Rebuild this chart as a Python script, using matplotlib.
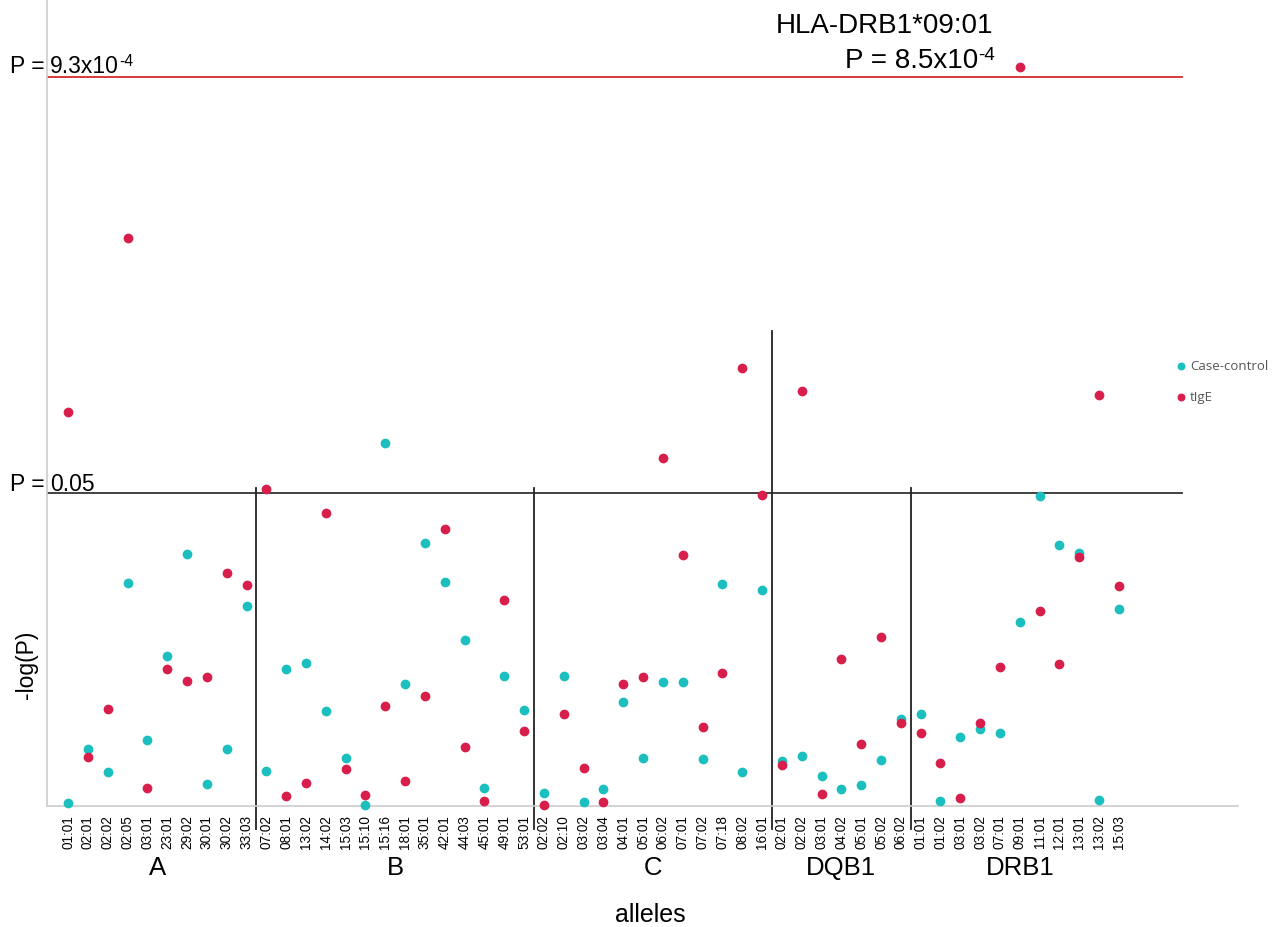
import matplotlib.pyplot as plt
import numpy as np

genes = ["A", "B", "C", "DQB1", "DRB1"]
alleles = {
    "A": ["01:01", "02:01", "02:02", "02:05", "03:01", "23:01", "29:02", "30:01", "30:02", "33:03"],
    "B": ["07:02", "08:01", "13:02", "14:02", "15:03", "15:10", "15:16", "18:01", "35:01", "42:01",
          "44:03", "45:01", "49:01", "53:01"],
    "C": ["02:02", "02:10", "03:02", "03:04", "04:01", "05:01", "06:02", "07:01", "07:02", "07:18",
          "08:02", "16:01"],
    "DQB1": ["02:01", "02:02", "03:01", "04:02", "05:01", "05:02", "06:02"],
    "DRB1": ["01:01", "01:02", "03:01", "03:02", "07:01", "09:01", "11:01", "12:01", "13:01", "13:02",
             "15:03"],
}

# -log10(P)
case_control = [
    0.012, 0.237, 0.141, 0.927, 0.274, 0.624, 1.048, 0.091, 0.237, 0.832,
    0.146, 0.570, 0.595, 0.395, 0.200, 0.004, 1.509, 0.507, 1.094, 0.931, 0.690, 0.075, 0.541, 0.399,
    0.054, 0.541, 0.017, 0.071, 0.432, 0.200, 0.516, 0.516, 0.195, 0.923, 0.141, 0.898,
    0.187, 0.208, 0.125, 0.071, 0.087, 0.191, 0.362,
    0.383, 0.021, 0.287, 0.320, 0.304, 0.765, 1.289, 1.085, 1.052, 0.025, 0.819,
]
tige = [
    1.638, 0.204, 0.403, 2.362, 0.075, 0.570, 0.520, 0.536, 0.969, 0.919,
    1.318, 0.042, 0.096, 1.218, 0.154, 0.046, 0.416, 0.104, 0.457, 1.152, 0.245, 0.021, 0.857, 0.312,
    0.004, 0.383, 0.158, 0.017, 0.507, 0.536, 1.447, 1.044, 0.328, 0.553, 1.821, 1.293,
    0.170, 1.726, 0.050, 0.611, 0.258, 0.703, 0.345,
    0.304, 0.179, 0.033, 0.345, 0.578, 3.071, 0.811, 0.590, 1.035, 1.709, 0.915,
]

p_nominal = 0.05
p_threshold = 9.3e-4

teal = "#1cbfbf"
red = "#d81e4b"
FONT = "Liberation Sans"

labels = [a for g in genes for a in alleles[g]]
x = np.arange(len(labels))

fig = plt.figure(figsize=(12.82, 9.28), dpi=100)
ax = fig.add_axes([0.0367, 0.1304, 0.9289, 0.8696])

ax.scatter(x, case_control, s=36, color=teal, zorder=3, clip_on=False)
ax.scatter(x, tige, s=36, color=red, zorder=3, clip_on=False)

ax.set_xlim(-1.06, 59.0)
ax.set_ylim(0, 3.355)

y05 = -np.log10(p_nominal)
ythr = -np.log10(p_threshold)
ax.plot([-1.06, 56.2], [y05, y05], color="#333333", lw=1.3, zorder=2)
ax.plot([-1.06, 56.2], [ythr, ythr], color="#d42a2a", lw=1.3, zorder=2)

# separators between genes
bounds = np.cumsum([len(alleles[g]) for g in genes])[:-1] - 0.5
for i, b in enumerate(bounds):
    top = 1.975 if genes[i + 1] == "DQB1" else 1.322
    ax.plot([b, b], [-0.096, top], color="#222222", lw=1.3, clip_on=False, zorder=2)

# gene names under the ticks
starts = np.concatenate([[0], bounds + 0.5])
for g, s in zip(genes, starts):
    mid = s + (len(alleles[g]) - 1) / 2
    ax.text(mid, -0.254, g, ha="center", va="center", fontsize=18.5,
            family=FONT, clip_on=False)

ax.set_xticks(x)
ax.set_xticklabels(labels, rotation=90, fontsize=9.8, family=FONT)
ax.tick_params(axis="x", length=0, pad=6)
ax.set_yticks([])

for side in ["top", "right"]:
    ax.spines[side].set_visible(False)
for side in ["left", "bottom"]:
    ax.spines[side].set_color("#cccccc")
    ax.spines[side].set_linewidth(1.2)

ax.text(29.35, -0.449, "alleles", ha="center", va="center", fontsize=18,
        family=FONT, clip_on=False)
ax.set_ylabel("-log(P)", fontsize=16.5, family=FONT)
ax.yaxis.set_label_coords(-0.008, 0.176)


def p_label(xv, yv, base, sup, size, ha="left"):
    t = ax.text(xv, yv, base, ha=ha, va="baseline", fontsize=size, family=FONT,
                clip_on=False)
    if sup:
        ax.annotate(sup, xy=(1.0, 1.02), xycoords=t, ha="left", va="top",
                    fontsize=size * 0.68, family=FONT)
    return t


p_label(-1.16, y05 + 0.013, "P =", None, 16.5, ha="right")
p_label(-0.91, y05 + 0.013, "0.05", None, 16.5)
p_label(-1.16, 3.052, "P =", None, 16.5, ha="right")
p_label(-0.91, 3.052, "9.3x10", "-4", 16.5)

ax.text(46.65, 3.218, "HLA-DRB1*09:01", ha="right", va="baseline", fontsize=20,
        family=FONT)
p_label(45.89, 3.073, "P = 8.5x10", "-4", 20, ha="right")

# legend
ax.scatter([56.13], [1.830], s=22, color=teal, clip_on=False)
ax.scatter([56.13], [1.701], s=22, color=red, clip_on=False)
ax.text(56.58, 1.830, "Case-control", ha="left", va="center", fontsize=9.5,
        color="#555555", family="Open Sans")
ax.text(56.58, 1.701, "tIgE", ha="left", va="center", fontsize=9.5,
        color="#555555", family="Open Sans")

fig.savefig("out.png", dpi=100)
